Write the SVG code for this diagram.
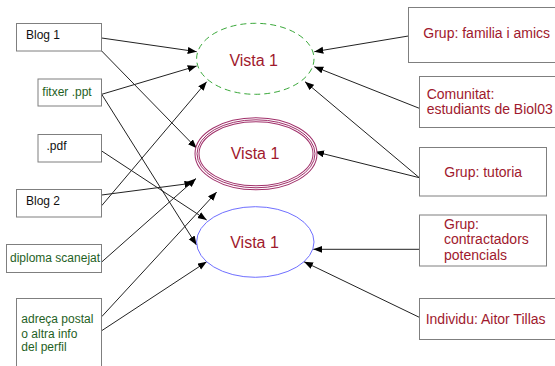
<svg xmlns="http://www.w3.org/2000/svg" width="555" height="366" viewBox="0 0 555 366">
<defs>
<marker id="ah" markerUnits="userSpaceOnUse" markerWidth="10" markerHeight="8" refX="9" refY="3.5" orient="auto">
<path d="M0,0 L9,3.5 L0,7 z" fill="#000"/>
</marker>
<style>
.box{fill:#fff;stroke:#7f7f7f;stroke-width:1}
.lt{font-family:"Liberation Sans",Arial,sans-serif;font-size:12px}
.blk{fill:#111}
.grn{fill:#1f5f1f}
.rt{font-family:"Liberation Sans",Arial,sans-serif;font-size:14px;fill:#a0192d}
.vt{font-family:"Liberation Sans",Arial,sans-serif;font-size:16px;fill:#a0192d;text-anchor:middle}
.cn line{stroke:#222;stroke-width:1;marker-end:url(#ah)}
</style>
</defs>
<rect width="555" height="366" fill="#fff"/>
<g class="cn" id="connectors">
<line x1="101.7" y1="38" x2="196.7" y2="51.7"/>
<line x1="101.7" y1="51" x2="196.7" y2="148.3"/>
<line x1="101.7" y1="94.3" x2="196.7" y2="66"/>
<line x1="101.7" y1="94.3" x2="196.5" y2="245"/>
<line x1="101.7" y1="151" x2="206.7" y2="220"/>
<line x1="101.7" y1="195" x2="193.5" y2="183"/>
<line x1="101.7" y1="205.7" x2="206.7" y2="81.7"/>
<line x1="101.7" y1="262" x2="196" y2="178.5"/>
<line x1="101.7" y1="316.7" x2="216.7" y2="192"/>
<line x1="101.7" y1="330.7" x2="206.7" y2="261.7"/>
<line x1="408.3" y1="36" x2="314.3" y2="51.7"/>
<line x1="419.3" y1="108.3" x2="314.3" y2="66.7"/>
<line x1="419.3" y1="177.7" x2="305" y2="81.7"/>
<line x1="419.3" y1="177.7" x2="315" y2="151.7"/>
<line x1="419.3" y1="249.3" x2="313.3" y2="249.3"/>
<line x1="419.3" y1="317.3" x2="304" y2="261.7"/>
</g>
<g id="vista-green">
<ellipse cx="255.3" cy="58.8" rx="58.7" ry="35.5" fill="none" stroke="#3aa83a" stroke-width="1" stroke-dasharray="6,4"/>
<text class="vt" x="253.7" y="66">Vista 1</text>
</g>
<g id="vista-pink">
<ellipse cx="256" cy="153.8" rx="59" ry="34" fill="none" stroke="#a0306a" stroke-width="5"/>
<ellipse cx="256" cy="153.8" rx="59" ry="34" fill="none" stroke="#fff" stroke-width="3"/>
<ellipse cx="256" cy="153.8" rx="59" ry="34" fill="none" stroke="#a0306a" stroke-width="1"/>
<text class="vt" x="255" y="158.5">Vista 1</text>
</g>
<g id="vista-blue">
<ellipse cx="255.3" cy="242" rx="58.7" ry="35.3" fill="none" stroke="#6f6fff" stroke-width="1"/>
<text class="vt" x="254.5" y="248">Vista 1</text>
</g>
<g id="blog1"><rect class="box" x="16.5" y="23.5" width="85" height="27.5"/><text class="lt blk" x="26" y="39">Blog 1</text></g>
<g id="ppt"><rect class="box" x="38" y="79" width="63.5" height="27"/><text class="lt grn" x="42.3" y="96">fitxer .ppt</text></g>
<g id="pdf"><rect class="box" x="38" y="134.5" width="63.5" height="27.5"/><text class="lt blk" x="46.5" y="150">.pdf</text></g>
<g id="blog2"><rect class="box" x="16.5" y="189.5" width="85" height="27.5"/><text class="lt blk" x="26" y="205">Blog 2</text></g>
<g id="diploma"><rect class="box" x="6.5" y="244.5" width="95" height="28"/><text class="lt grn" x="10" y="262.3">diploma scanejat</text></g>
<g id="adreca"><rect class="box" x="16.5" y="298.5" width="85" height="75"/><text class="lt grn" x="21.3" y="323.3">adreça postal</text><text class="lt grn" x="21.3" y="337.5">o altra info</text><text class="lt grn" x="21.3" y="350.5">del perfil</text></g>
<g id="familia"><rect class="box" x="408.5" y="7.5" width="160" height="55"/><text class="rt" x="423.3" y="38.3">Grup: familia i amics</text></g>
<g id="comunitat"><rect class="box" x="419.5" y="76.5" width="150" height="51"/><text class="rt" x="426.7" y="99">Comunitat:</text><text class="rt" x="426.7" y="114">estudiants de Biol03</text></g>
<g id="tutoria"><rect class="box" x="419.5" y="147.5" width="127" height="48.5"/><text class="rt" x="444.3" y="176.7">Grup: tutoria</text></g>
<g id="contractadors"><rect class="box" x="419.5" y="215" width="127" height="51"/><text class="rt" x="444" y="229.3">Grup:</text><text class="rt" x="444" y="244.3">contractadors</text><text class="rt" x="444" y="260">potencials</text></g>
<g id="individu"><rect class="box" x="419.5" y="298.5" width="150" height="41"/><text class="rt" x="425.7" y="324">Individu: Aitor Tillas</text></g>
</svg>
